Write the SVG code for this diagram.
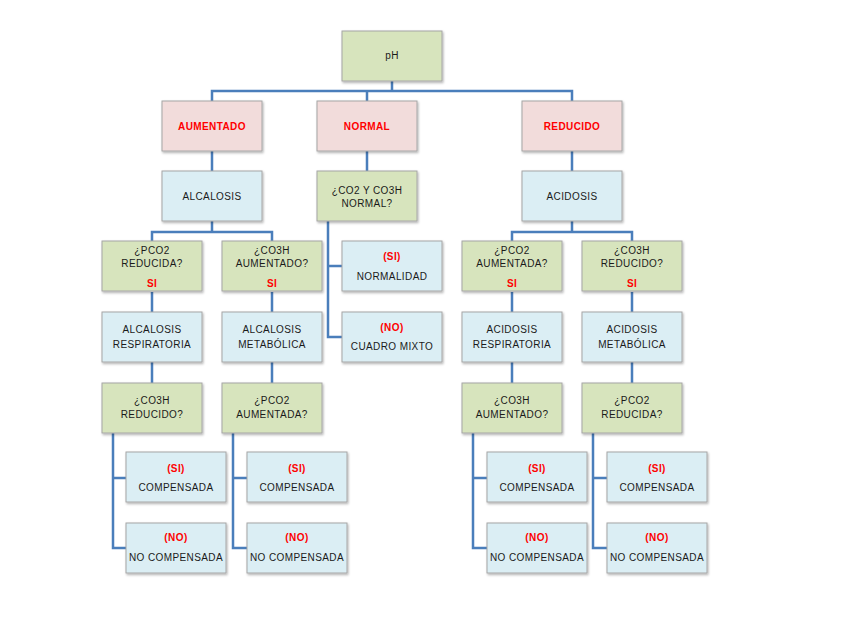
<svg xmlns="http://www.w3.org/2000/svg" width="848" height="636" viewBox="0 0 848 636">
<defs>
<filter id="sh" x="-10%" y="-10%" width="130%" height="140%">
<feDropShadow dx="1" dy="1.5" stdDeviation="1" flood-color="#000" flood-opacity="0.3"/>
</filter>
</defs>
<style>
rect{stroke:#a6a6a6;stroke-width:1;filter:url(#sh)}
.g{fill:#d7e4bd}.p{fill:#f2dcdb}.b{fill:#dbeef4}
text{font-family:"Liberation Sans",Arial,sans-serif;font-size:10px;letter-spacing:0.4px;fill:#1a1a1a;text-anchor:middle}
.r{fill:#ff0000;font-weight:bold}
#connectors path{fill:none;stroke:#4a7ebb;stroke-width:2.5}
</style>
<rect width="848" height="636" fill="#fff" style="stroke:none;filter:none"/>
<g id="connectors">
<path d="M392 81V91M212 101V91H572V101M367 91V101"/>
<path d="M212 151V171M367 151V171M572 151V171"/>
<path d="M212 221V232M152 241V232H272V241M572 221V232M512 241V232H632V241"/>
<path d="M152 292V312M272 292V312M512 292V312M632 292V312"/>
<path d="M152 362V383M272 362V383M512 362V383M632 362V383"/>
<path d="M328 221V337H342M328 266H342"/>
<path d="M113 432V548H126M113 478H126"/>
<path d="M233 432V548H247M233 478H247"/>
<path d="M473 432V548H487M473 478H487"/>
<path d="M593 432V548H607M593 478H607"/>
</g>
<g id="ph"><rect class="g" x="342" y="31" width="100" height="50"/><text x="392" y="59">pH</text></g>
<g id="aumentado"><rect class="p" x="162" y="101" width="100" height="50"/><text class="r" x="212" y="129.5">AUMENTADO</text></g>
<g id="normal"><rect class="p" x="317" y="101" width="100" height="50"/><text class="r" x="367" y="129.5">NORMAL</text></g>
<g id="reducido"><rect class="p" x="522" y="101" width="100" height="50"/><text class="r" x="572" y="129.5">REDUCIDO</text></g>
<g id="alcalosis"><rect class="b" x="162" y="171" width="100" height="50"/><text x="212" y="199.5">ALCALOSIS</text></g>
<g id="q-normal"><rect class="g" x="317" y="171" width="100" height="50"/><text x="367" y="193.5">¿CO2 Y CO3H</text><text x="367" y="207">NORMAL?</text></g>
<g id="acidosis"><rect class="b" x="522" y="171" width="100" height="50"/><text x="572" y="199.5">ACIDOSIS</text></g>
<g id="q-pco2-red"><rect class="g" x="102" y="241" width="100" height="50"/><text x="152" y="253.5">¿PCO2</text><text x="152" y="267">REDUCIDA?</text><text class="r" x="152" y="287">SI</text></g>
<g id="q-co3h-aum"><rect class="g" x="222" y="241" width="100" height="50"/><text x="272" y="253.5">¿CO3H</text><text x="272" y="267">AUMENTADO?</text><text class="r" x="272" y="287">SI</text></g>
<g id="normalidad"><rect class="b" x="342" y="241" width="100" height="50"/><text class="r" x="392" y="260">(SI)</text><text x="392" y="279.5">NORMALIDAD</text></g>
<g id="mixto"><rect class="b" x="342" y="312" width="100" height="50"/><text class="r" x="392" y="331">(NO)</text><text x="392" y="350">CUADRO MIXTO</text></g>
<g id="q-pco2-aum"><rect class="g" x="462" y="241" width="100" height="50"/><text x="512" y="253.5">¿PCO2</text><text x="512" y="267">AUMENTADA?</text><text class="r" x="512" y="287">SI</text></g>
<g id="q-co3h-red"><rect class="g" x="582" y="241" width="100" height="50"/><text x="632" y="253.5">¿CO3H</text><text x="632" y="267">REDUCIDO?</text><text class="r" x="632" y="287">SI</text></g>
<g id="alc-resp"><rect class="b" x="102" y="312" width="100" height="50"/><text x="152" y="333">ALCALOSIS</text><text x="152" y="348">RESPIRATORIA</text></g>
<g id="alc-met"><rect class="b" x="222" y="312" width="100" height="50"/><text x="272" y="333">ALCALOSIS</text><text x="272" y="348">METABÓLICA</text></g>
<g id="aci-resp"><rect class="b" x="462" y="312" width="100" height="50"/><text x="512" y="333">ACIDOSIS</text><text x="512" y="348">RESPIRATORIA</text></g>
<g id="aci-met"><rect class="b" x="582" y="312" width="100" height="50"/><text x="632" y="333">ACIDOSIS</text><text x="632" y="348">METABÓLICA</text></g>
<g id="q1"><rect class="g" x="102" y="383" width="100" height="50"/><text x="152" y="403.5">¿CO3H</text><text x="152" y="417.5">REDUCIDO?</text></g>
<g id="q2"><rect class="g" x="222" y="383" width="100" height="50"/><text x="272" y="403.5">¿PCO2</text><text x="272" y="417.5">AUMENTADA?</text></g>
<g id="q3"><rect class="g" x="462" y="383" width="100" height="50"/><text x="512" y="403.5">¿CO3H</text><text x="512" y="417.5">AUMENTADO?</text></g>
<g id="q4"><rect class="g" x="582" y="383" width="100" height="50"/><text x="632" y="403.5">¿PCO2</text><text x="632" y="417.5">REDUCIDA?</text></g>
<g id="c1"><rect class="b" x="126" y="452" width="100" height="50"/><text class="r" x="176" y="472">(SI)</text><text x="176" y="490.5">COMPENSADA</text></g>
<g id="n1"><rect class="b" x="126" y="523" width="100" height="50"/><text class="r" x="176" y="541">(NO)</text><text x="176" y="561">NO COMPENSADA</text></g>
<g id="c2"><rect class="b" x="247" y="452" width="100" height="50"/><text class="r" x="297" y="472">(SI)</text><text x="297" y="490.5">COMPENSADA</text></g>
<g id="n2"><rect class="b" x="247" y="523" width="100" height="50"/><text class="r" x="297" y="541">(NO)</text><text x="297" y="561">NO COMPENSADA</text></g>
<g id="c3"><rect class="b" x="487" y="452" width="100" height="50"/><text class="r" x="537" y="472">(SI)</text><text x="537" y="490.5">COMPENSADA</text></g>
<g id="n3"><rect class="b" x="487" y="523" width="100" height="50"/><text class="r" x="537" y="541">(NO)</text><text x="537" y="561">NO COMPENSADA</text></g>
<g id="c4"><rect class="b" x="607" y="452" width="100" height="50"/><text class="r" x="657" y="472">(SI)</text><text x="657" y="490.5">COMPENSADA</text></g>
<g id="n4"><rect class="b" x="607" y="523" width="100" height="50"/><text class="r" x="657" y="541">(NO)</text><text x="657" y="561">NO COMPENSADA</text></g>
</svg>
